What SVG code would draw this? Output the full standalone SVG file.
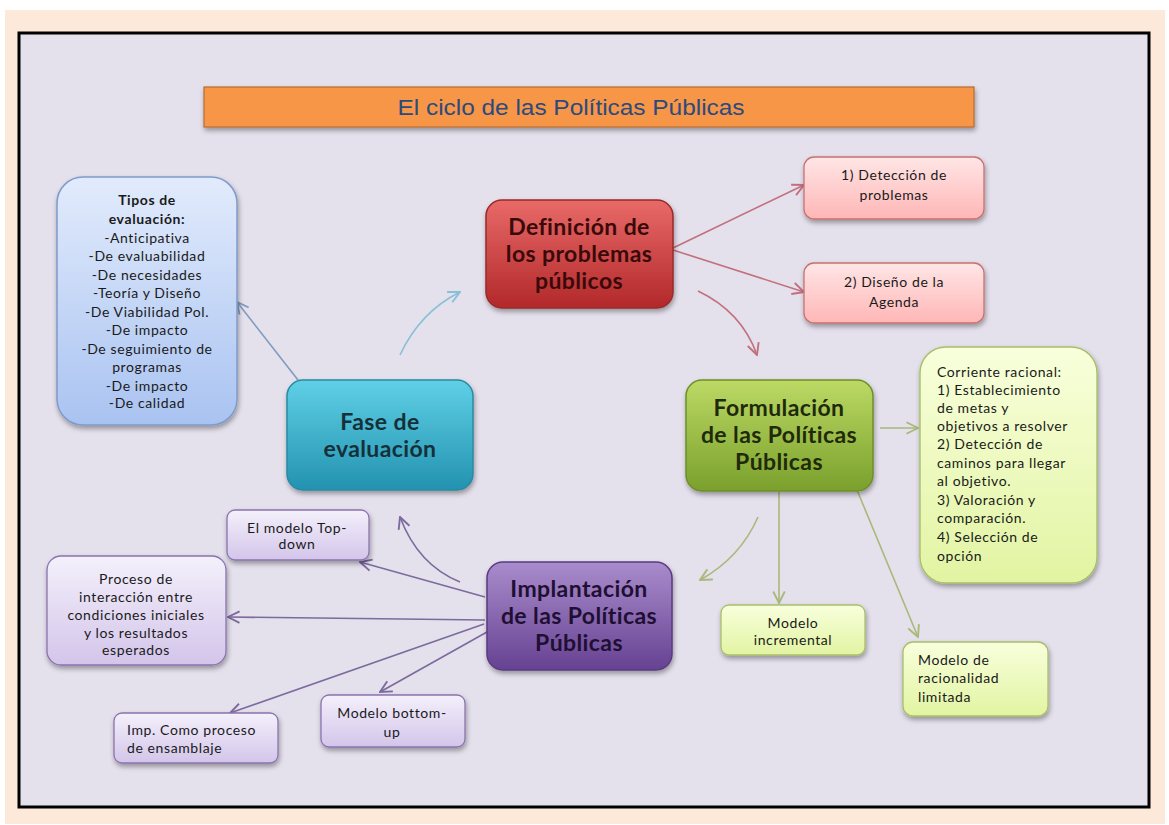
<svg xmlns="http://www.w3.org/2000/svg" width="1169" height="825" viewBox="0 0 1169 825">
<defs>
<linearGradient id="gBlue" x1="0" y1="0" x2="0" y2="1"><stop offset="0" stop-color="#e2ebfc"/><stop offset="1" stop-color="#a9c3f1"/></linearGradient>
<linearGradient id="gTeal" x1="0" y1="0" x2="0" y2="1"><stop offset="0" stop-color="#5fd0e6"/><stop offset="1" stop-color="#2392b0"/></linearGradient>
<linearGradient id="gRed" x1="0" y1="0" x2="0" y2="1"><stop offset="0" stop-color="#e86a68"/><stop offset="1" stop-color="#b2282a"/></linearGradient>
<linearGradient id="gPink" x1="0" y1="0" x2="0" y2="1"><stop offset="0" stop-color="#ffe6e6"/><stop offset="1" stop-color="#ffb6b6"/></linearGradient>
<linearGradient id="gGreen" x1="0" y1="0" x2="0" y2="1"><stop offset="0" stop-color="#bcd964"/><stop offset="1" stop-color="#7aa02c"/></linearGradient>
<linearGradient id="gLime" x1="0" y1="0" x2="0" y2="1"><stop offset="0" stop-color="#f8ffdc"/><stop offset="1" stop-color="#e2f4a2"/></linearGradient>
<linearGradient id="gPurple" x1="0" y1="0" x2="0" y2="1"><stop offset="0" stop-color="#a98ccc"/><stop offset="1" stop-color="#664292"/></linearGradient>
<linearGradient id="gLav" x1="0" y1="0" x2="0" y2="1"><stop offset="0" stop-color="#f4f0fb"/><stop offset="1" stop-color="#d3c5ea"/></linearGradient>
<filter id="sh" x="-20%" y="-20%" width="140%" height="150%"><feDropShadow dx="1" dy="3" stdDeviation="2.5" flood-color="#000" flood-opacity="0.35"/></filter>
<marker id="aBlue" viewBox="0 0 10 10" refX="9" refY="5" markerWidth="9" markerHeight="9" orient="auto"><path d="M1,1 L9,5 L1,9" fill="none" stroke="#7f9bbf" stroke-width="1.3"/></marker>
<marker id="aTeal" viewBox="0 0 10 10" refX="9" refY="5" markerWidth="9" markerHeight="9" orient="auto"><path d="M1,1 L9,5 L1,9" fill="none" stroke="#86c1d8" stroke-width="1.3"/></marker>
<marker id="aRed" viewBox="0 0 10 10" refX="9" refY="5" markerWidth="9" markerHeight="9" orient="auto"><path d="M1,1 L9,5 L1,9" fill="none" stroke="#c2707e" stroke-width="1.3"/></marker>
<marker id="aGreen" viewBox="0 0 10 10" refX="9" refY="5" markerWidth="9" markerHeight="9" orient="auto"><path d="M1,1 L9,5 L1,9" fill="none" stroke="#a9b97a" stroke-width="1.3"/></marker>
<marker id="aPurple" viewBox="0 0 10 10" refX="9" refY="5" markerWidth="9" markerHeight="9" orient="auto"><path d="M1,1 L9,5 L1,9" fill="none" stroke="#7d6a9e" stroke-width="1.3"/></marker>
</defs>
<style>
.big{font-family:Lato,"Open Sans",sans-serif;font-weight:bold;font-size:23px;letter-spacing:0.4px;text-anchor:middle}
.sm{font-family:Lato,"Open Sans",sans-serif;font-size:14px;letter-spacing:0.6px;fill:#1a1a1a}
.c{text-anchor:middle}
.b{font-weight:bold}
.con{fill:none;stroke-width:1.6}
</style>
<rect x="0" y="0" width="1169" height="825" fill="#ffffff"/>
<rect x="5" y="10" width="1160" height="814" fill="#fde9d9"/>
<rect x="19" y="33" width="1130" height="774" fill="#e4e0ec" stroke="#000" stroke-width="3"/>

<g id="title">
<rect x="204" y="87" width="770" height="40" fill="#f79646" stroke="#b86a30" stroke-width="1.2" filter="url(#sh)"/>
<text x="571" y="115" font-family="'Liberation Sans Narrow','Liberation Sans',sans-serif" font-size="22" fill="#2c4a7e" text-anchor="middle" textLength="347" lengthAdjust="spacingAndGlyphs">El ciclo de las Políticas Públicas</text>
</g>

<g id="connectors">
<path class="con" d="M298,380 L237,302" stroke="#7f9bbf" marker-end="url(#aBlue)"/>
<path class="con" d="M400,355 Q420,312 460,292" stroke="#86c1d8" marker-end="url(#aTeal)"/>
<path class="con" d="M673,248 L804,185" stroke="#c2707e" marker-end="url(#aRed)"/>
<path class="con" d="M673,250 L804,292" stroke="#c2707e" marker-end="url(#aRed)"/>
<path class="con" d="M698,291 Q742,312 757,355" stroke="#c2707e" marker-end="url(#aRed)"/>
<path class="con" d="M880,428 L918,428" stroke="#a9b97a" marker-end="url(#aGreen)"/>
<path class="con" d="M779,492 L779,603" stroke="#a9b97a" marker-end="url(#aGreen)"/>
<path class="con" d="M857,490 L918,637" stroke="#a9b97a" marker-end="url(#aGreen)"/>
<path class="con" d="M758,517 Q740,558 700,580" stroke="#a9b97a" marker-end="url(#aGreen)"/>
<path class="con" d="M460,582 Q418,565 400,517" stroke="#7d6a9e" marker-end="url(#aPurple)"/>
<path class="con" d="M485,597 L360,562" stroke="#7d6a9e" marker-end="url(#aPurple)"/>
<path class="con" d="M485,620 L228,617" stroke="#7d6a9e" marker-end="url(#aPurple)"/>
<path class="con" d="M484,624 L230,713" stroke="#7d6a9e" marker-end="url(#aPurple)"/>
<path class="con" d="M487,632 L380,692" stroke="#7d6a9e" marker-end="url(#aPurple)"/>
</g>

<g id="tipos">
<rect x="57" y="177" width="180" height="248" rx="26" fill="url(#gBlue)" stroke="#7f9bc9" stroke-width="1.5" filter="url(#sh)"/>
<text class="sm c b" x="147" y="205">Tipos de</text>
<text class="sm c b" x="147" y="224">evaluación:</text>
<text class="sm c" x="147" y="243">-Anticipativa</text>
<text class="sm c" x="147" y="261">-De evaluabilidad</text>
<text class="sm c" x="147" y="280">-De necesidades</text>
<text class="sm c" x="147" y="298">-Teoría y Diseño</text>
<text class="sm c" x="147" y="317">-De Viabilidad Pol.</text>
<text class="sm c" x="147" y="335">-De impacto</text>
<text class="sm c" x="147" y="354">-De seguimiento de</text>
<text class="sm c" x="147" y="372">programas</text>
<text class="sm c" x="147" y="391">-De impacto</text>
<text class="sm c" x="147" y="408">-De calidad</text>
</g>

<g id="fase">
<rect x="287" y="380" width="186" height="110" rx="16" fill="url(#gTeal)" stroke="#2a8aa3" stroke-width="1.5" filter="url(#sh)"/>
<text class="big" x="380" y="430" fill="#16303a">Fase de</text>
<text class="big" x="380" y="457" fill="#16303a">evaluación</text>
</g>

<g id="definicion">
<rect x="486" y="200" width="187" height="108" rx="16" fill="url(#gRed)" stroke="#9a2a2a" stroke-width="1.5" filter="url(#sh)"/>
<text class="big" x="579" y="235" fill="#3a0a0a">Definición de</text>
<text class="big" x="579" y="262" fill="#3a0a0a">los problemas</text>
<text class="big" x="579" y="289" fill="#3a0a0a">públicos</text>
</g>

<g id="deteccion">
<rect x="804" y="157" width="180" height="62" rx="10" fill="url(#gPink)" stroke="#c87070" stroke-width="1.3" filter="url(#sh)"/>
<text class="sm c" x="894" y="180">1) Detección de</text>
<text class="sm c" x="894" y="200">problemas</text>
</g>

<g id="diseno">
<rect x="804" y="263" width="180" height="60" rx="10" fill="url(#gPink)" stroke="#c87070" stroke-width="1.3" filter="url(#sh)"/>
<text class="sm c" x="894" y="287">2) Diseño de la</text>
<text class="sm c" x="894" y="307">Agenda</text>
</g>

<g id="formulacion">
<rect x="686" y="380" width="187" height="111" rx="16" fill="url(#gGreen)" stroke="#6d8f2a" stroke-width="1.5" filter="url(#sh)"/>
<text class="big" x="779" y="416" fill="#1f2a0a">Formulación</text>
<text class="big" x="779" y="443" fill="#1f2a0a">de las Políticas</text>
<text class="big" x="779" y="470" fill="#1f2a0a">Públicas</text>
</g>

<g id="corriente">
<rect x="920" y="347" width="177" height="236" rx="26" fill="url(#gLime)" stroke="#a8bf6a" stroke-width="1.4" filter="url(#sh)"/>
<text class="sm" x="937" y="377">Corriente racional:</text>
<text class="sm" x="937" y="395">1) Establecimiento</text>
<text class="sm" x="937" y="413">de metas y</text>
<text class="sm" x="937" y="431">objetivos a resolver</text>
<text class="sm" x="937" y="449">2) Detección de</text>
<text class="sm" x="937" y="468">caminos para llegar</text>
<text class="sm" x="937" y="486">al objetivo.</text>
<text class="sm" x="937" y="505">3) Valoración y</text>
<text class="sm" x="937" y="523">comparación.</text>
<text class="sm" x="937" y="542">4) Selección de</text>
<text class="sm" x="937" y="561">opción</text>
</g>

<g id="incremental">
<rect x="721" y="605" width="144" height="50" rx="8" fill="url(#gLime)" stroke="#a8bf6a" stroke-width="1.3" filter="url(#sh)"/>
<text class="sm c" x="793" y="628">Modelo</text>
<text class="sm c" x="793" y="645">incremental</text>
</g>

<g id="racionalidad">
<rect x="903" y="642" width="145" height="74" rx="10" fill="url(#gLime)" stroke="#a8bf6a" stroke-width="1.3" filter="url(#sh)"/>
<text class="sm" x="918" y="665">Modelo de</text>
<text class="sm" x="918" y="683">racionalidad</text>
<text class="sm" x="918" y="702">limitada</text>
</g>

<g id="implantacion">
<rect x="487" y="562" width="185" height="108" rx="16" fill="url(#gPurple)" stroke="#5a3a82" stroke-width="1.5" filter="url(#sh)"/>
<text class="big" x="579" y="597" fill="#1f0f33">Implantación</text>
<text class="big" x="579" y="624" fill="#1f0f33">de las Políticas</text>
<text class="big" x="579" y="651" fill="#1f0f33">Públicas</text>
</g>

<g id="topdown">
<rect x="227" y="510" width="142" height="50" rx="8" fill="url(#gLav)" stroke="#8a73ae" stroke-width="1.3" filter="url(#sh)"/>
<text class="sm c" x="297" y="533">El modelo Top-</text>
<text class="sm c" x="297" y="549">down</text>
</g>

<g id="proceso">
<rect x="47" y="556" width="179" height="109" rx="14" fill="url(#gLav)" stroke="#8a73ae" stroke-width="1.3" filter="url(#sh)"/>
<text class="sm c" x="136" y="584">Proceso de</text>
<text class="sm c" x="136" y="602">interacción entre</text>
<text class="sm c" x="136" y="620">condiciones iniciales</text>
<text class="sm c" x="136" y="638">y los resultados</text>
<text class="sm c" x="136" y="655">esperados</text>
</g>

<g id="ensamblaje">
<rect x="114" y="713" width="164" height="50" rx="8" fill="url(#gLav)" stroke="#8a73ae" stroke-width="1.3" filter="url(#sh)"/>
<text class="sm" x="127" y="735">Imp. Como proceso</text>
<text class="sm" x="127" y="753">de ensamblaje</text>
</g>

<g id="bottomup">
<rect x="321" y="695" width="144" height="52" rx="8" fill="url(#gLav)" stroke="#8a73ae" stroke-width="1.3" filter="url(#sh)"/>
<text class="sm c" x="392" y="718">Modelo bottom-</text>
<text class="sm c" x="392" y="737">up</text>
</g>
</svg>
